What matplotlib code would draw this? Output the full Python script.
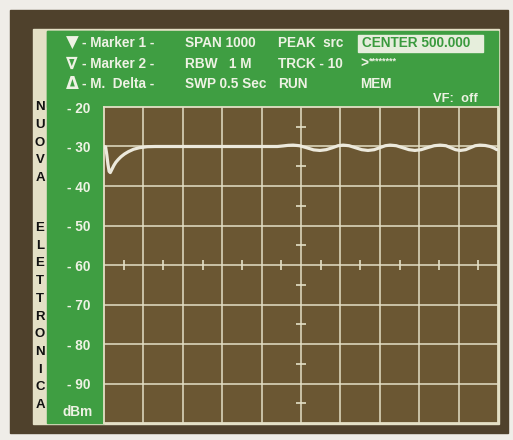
import numpy as np
import matplotlib.pyplot as plt
from matplotlib.patches import Rectangle

plt.rcParams['font.family'] = ['Liberation Sans', 'DejaVu Sans']

# trace: frequency (MHz, span 0..1000) and level (dBm)
freq = [0, 4, 7, 10, 13, 16, 20, 25, 30, 36, 43, 52, 62, 75, 90, 110, 130,
        300, 440, 455, 468, 480, 496, 514, 532, 548, 564, 580, 594, 607,
        622, 638, 654, 670, 686, 700, 714, 726, 742, 758, 774, 789, 805,
        821, 838, 853, 868, 880, 892, 904, 918, 930, 942, 954, 968, 980,
        990, 997]
level = [-30.0, -30.1, -32.0, -34.5, -36.3, -36.6, -35.8, -34.8, -34.0, -33.3,
         -32.6, -31.9, -31.3, -30.7, -30.3, -30.05, -30.0,
         -30.0, -30.0, -29.85, -29.7, -29.65, -29.8, -30.3, -30.85, -31.0,
         -30.8, -30.3, -29.8, -29.65, -29.8, -30.3, -30.8, -31.0, -30.8,
         -30.3, -29.8, -29.65, -29.8, -30.3, -30.8, -31.0, -30.8, -30.3,
         -29.8, -29.65, -29.8, -30.3, -30.8, -31.0, -30.8, -30.3, -29.8,
         -29.65, -29.75, -30.0, -30.4, -30.8]

ylevels = [-20, -30, -40, -50, -60, -70, -80, -90]
ylabels = ['- 20', '- 30', '- 40', '- 50', '- 60', '- 70', '- 80', '- 90']

marks = ['\u25bc', '\u2207', '\u0394']
col1 = ['- Marker 1 -', '- Marker 2 -', '- M.  Delta -']
col2 = ['SPAN 1000', 'RBW   1 M', 'SWP 0.5 Sec']
col3 = ['PEAK  src', 'TRCK - 10', 'RUN']
col4 = ['CENTER 500.000', '>', 'MEM']
brand1 = list('NUOVA')
brand2 = list('ELETTRONICA')

green = '#3f9e42'
cream = '#e4e0c6'
txt = '#eef2e4'

fig = plt.figure(figsize=(5.13, 4.40), dpi=100, facecolor='#efede8')

# background panels (pixel coordinates, y down)
bg = fig.add_axes([0, 0, 1, 1])
bg.set_xlim(0, 513)
bg.set_ylim(440, 0)
bg.axis('off')
bg.add_patch(Rectangle((10, 10), 498, 423, color='#4f412c'))
bg.add_patch(Rectangle((33, 29), 466, 395, color=cream))
bg.add_patch(Rectangle((47, 31), 451, 76, color=green))
bg.add_patch(Rectangle((47, 31), 57, 392, color=green))

rows = [43, 64, 84]
for i, y in enumerate(rows):
    bg.text(72, y, marks[i], color=txt, fontsize=12, fontweight='bold',
            ha='center', va='center', family='DejaVu Sans')
    bg.text(82, y, col1[i], color=txt, fontsize=9.8, fontweight='bold', va='center')
    bg.text(185, y, col2[i], color=txt, fontsize=9.8, fontweight='bold', va='center')
    bg.text(278, y, col3[i], color=txt, fontsize=9.8, fontweight='bold', va='center')
    if i == 0:
        bg.add_patch(Rectangle((358, 35), 125, 17, color='#e6eedc'))
        bg.text(362, y, col4[i], color='#3a9a3e', fontsize=9.8, fontweight='bold', va='center')
    else:
        bg.text(360, y, col4[i], color=txt, fontsize=9.8, fontweight='bold', va='center')
bg.text(369, 61, '********', color=txt, fontsize=6.5, fontweight='bold', va='center')
bg.text(433, 99, 'VF:  off', color=txt, fontsize=9.3, fontweight='bold', va='center')

for i, ch in enumerate(brand1):
    bg.text(40, 107 + i * 17.8, ch, color='#111111', fontsize=9.5, fontweight='bold',
            ha='center', va='center')
for i, ch in enumerate(brand2):
    bg.text(40, 228 + i * 17.7, ch, color='#111111', fontsize=9.5, fontweight='bold',
            ha='center', va='center')

# spectrum screen
ax = fig.add_axes([104 / 513, 1 - 423 / 440, 394 / 513, 316 / 440])
ax.set_facecolor('#6b5733')
ax.set_xlim(0, 1000)
ax.set_ylim(-100, -20)
for x in range(100, 1000, 100):
    ax.axvline(x, color=cream, lw=1.1, zorder=1)
for y in range(-90, -20, 10):
    ax.axhline(y, color=cream, lw=1.1, zorder=1)
for s in ax.spines.values():
    s.set_color(cream)
    s.set_linewidth(1.3)

ax.plot(np.full(8, 500), np.arange(-25, -100, -10), ls='none', marker='_',
        ms=7, mew=1.2, color=cream, zorder=2)
ax.plot(np.arange(50, 1000, 100), np.full(10, -60), ls='none', marker='|',
        ms=7, mew=1.2, color=cream, zorder=2)

ax.plot(freq, level, color='#ece9dc', lw=2.3, zorder=3,
        solid_joinstyle='round', solid_capstyle='round')

ax.set_xticks([])
ax.set_yticks(ylevels)
ax.set_yticklabels(ylabels, color=txt, fontsize=9.8, fontweight='bold')
ax.tick_params(axis='y', length=0, pad=10)
ax.text(-28, -97.2, 'dBm', color=txt, fontsize=9.8, fontweight='bold',
        ha='right', va='center', transform=ax.transData)

fig.savefig('out.png', dpi=100, facecolor=fig.get_facecolor())
